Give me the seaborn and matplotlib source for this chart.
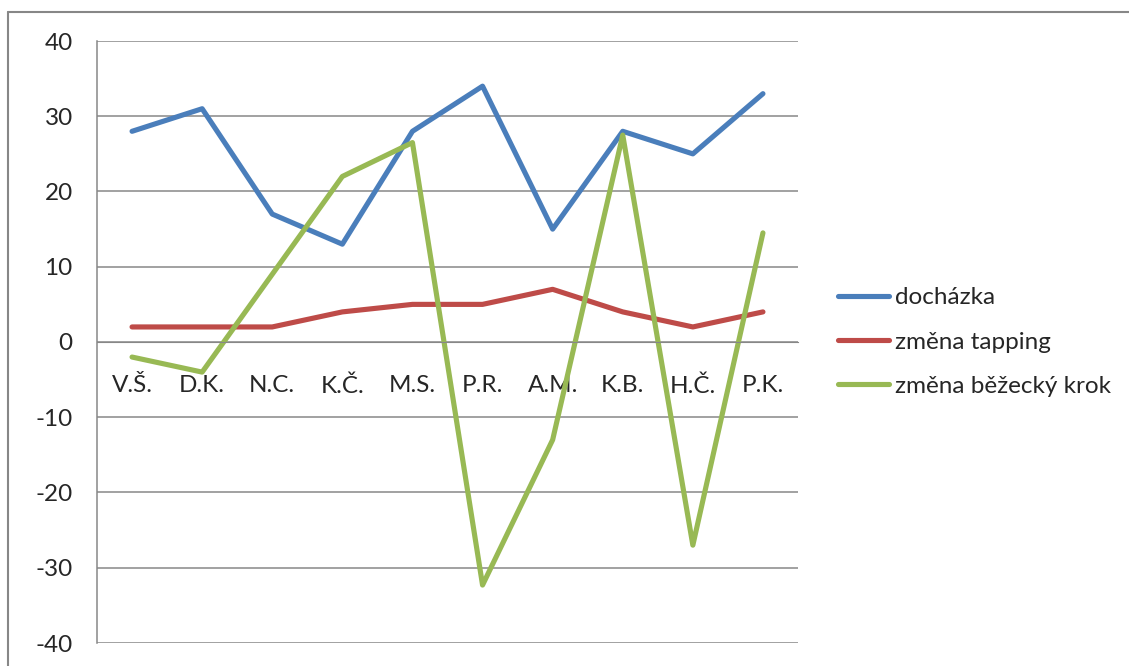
import numpy as np
import pandas as pd
import seaborn as sns
import matplotlib.pyplot as plt
from matplotlib.lines import Line2D

names = ['V.Š.', 'D.K.', 'N.C.', 'K.Č.', 'M.S.', 'P.R.', 'A.M.', 'K.B.', 'H.Č.', 'P.K.']
dochazka = [28, 31, 17, 13, 28, 34, 15, 28, 25, 33]
tapping = [2, 2, 2, 4, 5, 5, 7, 4, 2, 4]
bezecky = [-2, -4, 9, 22, 26.5, -32.3, -13, 27.5, -27, 14.5]
series = ['docházka', 'změna tapping', 'změna běžecký krok']
colors = ['#4A7EBB', '#BE4B48', '#98B954']

pos = np.arange(len(names))
df = pd.DataFrame({
    'x': np.tile(pos, 3),
    'val': dochazka + tapping + bezecky,
    'serie': np.repeat(series, len(names)),
})

sns.set_style('white')
plt.rcParams['font.family'] = ['Lato', 'DejaVu Sans']
plt.rcParams['axes.unicode_minus'] = False
grid_c = '#878787'
fs = 17.5
lw = 3.7

fig = plt.figure(figsize=(11.29, 6.66), dpi=100)
ax = fig.add_axes([97/1129, 1 - 643/666, (798 - 97)/1129, (643 - 41)/666])

sns.lineplot(data=df, x='x', y='val', hue='serie', palette=colors,
             linewidth=lw, ax=ax, legend=False, solid_capstyle='round',
             solid_joinstyle='round')

ax.set_xlim(-0.5, len(names) - 0.5)
ax.set_ylim(-40, 40)
ax.set_yticks(range(-40, 41, 10))
ax.yaxis.grid(True, color=grid_c, linewidth=1.1)
ax.set_axisbelow(True)

ax.set_xticks(np.arange(-0.5, len(names), 1))
ax.set_xticklabels([])
ax.set_xticks(pos, minor=True)
ax.set_xticklabels(names, minor=True)
ax.tick_params(axis='x', which='major', direction='out', length=6, width=1, color=grid_c)
ax.tick_params(axis='x', which='minor', length=0, pad=24, labelsize=fs)
ax.tick_params(axis='y', direction='out', length=6.5, width=1, color=grid_c, pad=11, labelsize=fs)
ax.set_xlabel('')
ax.set_ylabel('')

for s in ['top', 'right']:
    ax.spines[s].set_visible(False)
ax.spines['bottom'].set_position(('data', 0))
ax.spines['bottom'].set_color(grid_c)
ax.spines['left'].set_color(grid_c)
ax.spines['left'].set_linewidth(1.1)

handles = [Line2D([], [], color=c, linewidth=lw, solid_capstyle='round') for c in colors]
fig.legend(handles, series, loc='center left', bbox_to_anchor=(838/1129, 1 - 342/666),
           frameon=False, fontsize=fs, handlelength=2.1, handletextpad=0.25,
           labelspacing=0.95, borderpad=0, borderaxespad=0)

# chart border (partly cropped in the original)
fig.add_artist(Line2D([7.5/1129, 7.5/1129], [0, 1 - 11.5/666], color=grid_c, linewidth=1.5))
fig.add_artist(Line2D([7.5/1129, 1], [1 - 11.5/666, 1 - 11.5/666], color=grid_c, linewidth=1.5))

fig.savefig('out.png', dpi=100)
